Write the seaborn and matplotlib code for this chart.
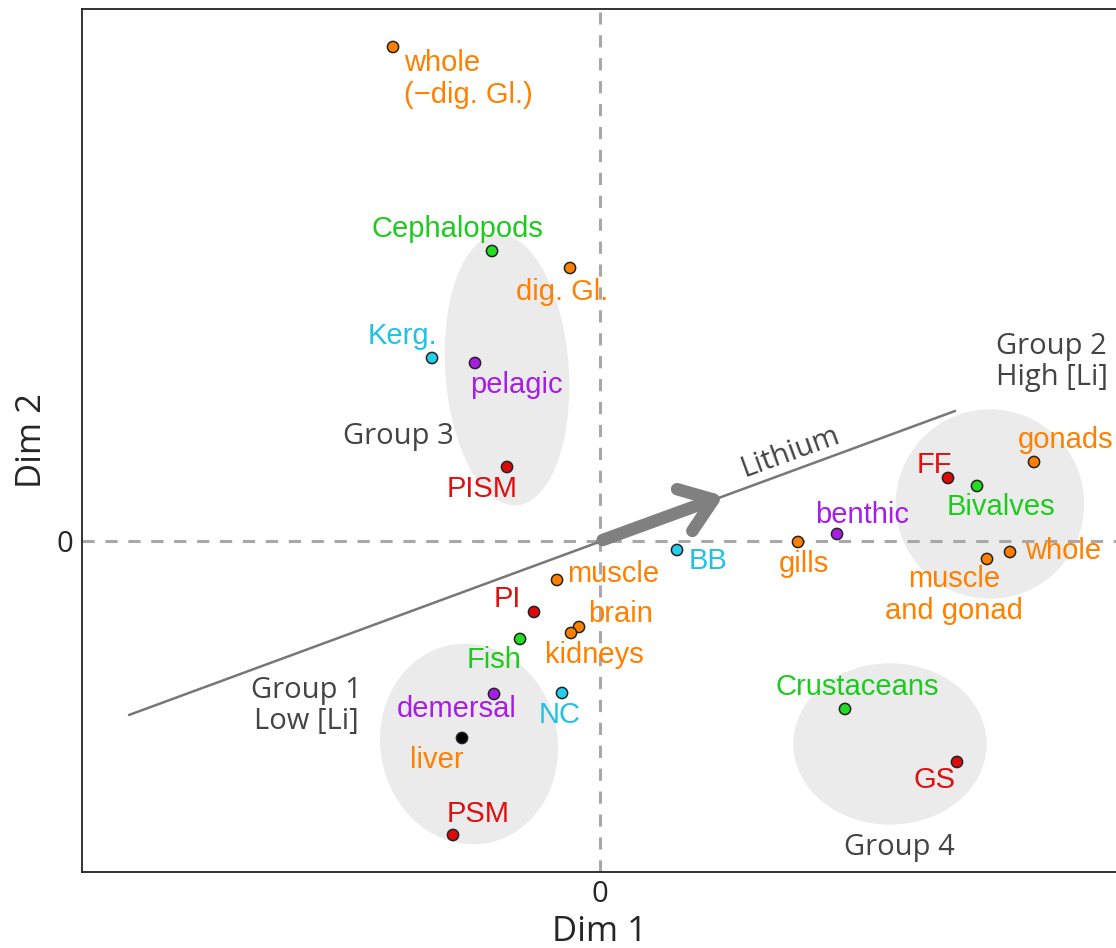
import matplotlib
matplotlib.use('Agg')
import matplotlib.pyplot as plt
import numpy as np
import pandas as pd
import seaborn as sns
from matplotlib.patches import Ellipse, FancyArrowPatch

# data: PCA scores
labels = ['whole\n(\u2212dig. Gl.)', 'Cephalopods', 'dig. Gl.', 'Kerg.', 'pelagic', 'PISM',
          'FF', 'Bivalves', 'gonads', 'benthic', 'gills', 'BB', 'whole', 'muscle\nand gonad',
          'muscle', 'PI', 'brain', 'kidneys', 'Fish', 'demersal', 'NC', 'liver', 'PSM',
          'Crustaceans', 'GS']
dim1 = [-2.07, -1.08, -0.30, -1.68, -1.25, -0.93,
        3.48, 3.77, 4.34, 2.37, 1.98, 0.77, 4.10, 3.87,
        -0.43, -0.66, -0.21, -0.29, -0.80, -1.06, -0.38, -1.38, -1.47,
        2.45, 3.57]
dim2 = [4.94, 2.90, 2.73, 1.83, 1.78, 0.74,
        0.63, 0.55, 0.79, 0.07, -0.01, -0.09, -0.11, -0.18,
        -0.39, -0.71, -0.86, -0.92, -0.98, -1.53, -1.52, -1.97, -2.94,
        -1.68, -2.21]
kind = ['tissue', 'taxon', 'tissue', 'region', 'habitat', 'site',
        'site', 'taxon', 'tissue', 'habitat', 'tissue', 'region', 'tissue', 'tissue',
        'tissue', 'site', 'tissue', 'tissue', 'taxon', 'habitat', 'region', 'liver', 'site',
        'taxon', 'site']

palette = {'tissue': '#ff8000', 'taxon': '#22dd22', 'site': '#dd0a0a',
           'habitat': '#a61ee6', 'region': '#22d0ec', 'liver': '#000000'}
text_col = {'tissue': '#ff8000', 'taxon': '#1ccc1c', 'site': '#dd1111',
            'habitat': '#a61ee6', 'region': '#1ec3e3', 'liver': '#ff8000'}

# label offsets in points (dx, dy, ha)
offsets = [(8, -23, 'left'), (-25, 16, 'center'), (-6, -17, 'center'), (-21, 16, 'center'),
           (30, -16, 'center'), (-18, -16, 'center'),
           (-10, 9, 'center'), (17, -15, 'center'), (23, 16, 'center'), (18, 14, 'center'),
           (4, -16, 'center'), (22, -8, 'center'), (11, 1, 'left'), (-24, -26, 'center'),
           (7, 4, 'left'), (-19, 9, 'center'), (30, 9, 'center'), (17, -16, 'center'),
           (-19, -15, 'center'), (-27, -11, 'center'), (-2, -16, 'center'), (-18, -16, 'center'),
           (18, 15, 'center'), (9, 16, 'center'), (-16, -13, 'center')]

df = pd.DataFrame({'Dim1': dim1, 'Dim2': dim2, 'kind': kind, 'label': labels})

sns.set_style('white')
plt.rcParams['font.family'] = ['Liberation Sans', 'DejaVu Sans']

fig = plt.figure(figsize=(11.16, 9.48), dpi=100)
ax = fig.add_axes([0.0735, 0.0802, 0.9265, 0.9103])
ax.set_xlim(-5.18, 5.16)
ax.set_ylim(-3.31, 5.32)

# group ellipses
grey = '#ebebeb'
ax.add_patch(Ellipse((-0.93, 1.71), 1.22, 2.70, angle=4, color=grey, zorder=0))
ax.add_patch(Ellipse((-1.31, -2.03), 1.76, 2.00, angle=10, color=grey, zorder=0))
ax.add_patch(Ellipse((3.90, 0.37), 1.87, 1.88, color=grey, zorder=0))
ax.add_patch(Ellipse((2.90, -2.03), 1.92, 1.60, color=grey, zorder=0))

ax.axhline(0, color='#a8a8a8', lw=2.2, dashes=(4, 3.5), zorder=1)
ax.axvline(0, color='#a8a8a8', lw=2.2, dashes=(4, 3.5), zorder=1)

# lithium axis
ax.plot([-4.71, 3.55], [-1.74, 1.30], color='#777777', lw=1.8, zorder=1)
ax.add_patch(FancyArrowPatch((0.0, 0.0), (1.26, 0.46),
                             arrowstyle='->,head_length=0.55,head_width=0.4',
                             mutation_scale=40, lw=9, color='#808080', zorder=2))
ax.text(1.90, 0.89, 'Lithium', rotation=20, ha='center', va='center', fontsize=21,
        color='#444444', family=['Open Sans', 'DejaVu Sans'])

sns.scatterplot(data=df, x='Dim1', y='Dim2', hue='kind', palette=palette, s=65,
                edgecolor='#222222', linewidth=1.1, legend=False, zorder=3, ax=ax)

for i in range(len(labels)):
    dx, dy, ha = offsets[i]
    ax.annotate(labels[i], (dim1[i], dim2[i]), xytext=(dx, dy), textcoords='offset points',
                ha=ha, va='center', fontsize=21, color=text_col[kind[i]],
                multialignment=ha, linespacing=1.15, zorder=4)

grp = dict(fontsize=21, color='#444444', family=['Open Sans', 'DejaVu Sans'], va='center',
           linespacing=1.1)
ax.text(-2.02, 1.04, 'Group 3', ha='center', **grp)
ax.text(3.96, 1.79, 'Group 2\nHigh [Li]', ha='left', multialignment='left', **grp)
ax.text(-2.94, -1.65, 'Group 1\nLow [Li]', ha='center', multialignment='center', **grp)
ax.text(2.99, -3.07, 'Group 4', ha='center', **grp)

ax.set_xticks([0])
ax.set_yticks([0])
ax.set_xticklabels(['0'], fontsize=21, family=['Open Sans', 'DejaVu Sans'])
ax.set_yticklabels(['0'], fontsize=21, family=['Open Sans', 'DejaVu Sans'])
ax.tick_params(axis='x', length=0, pad=6)
ax.tick_params(axis='y', direction='in', length=13, width=1.5, color='black', pad=6)
ax.set_xlabel('Dim 1', fontsize=25, family=['Open Sans', 'DejaVu Sans'], labelpad=4)
ax.set_ylabel('Dim 2', fontsize=25, family=['Open Sans', 'DejaVu Sans'], labelpad=6)
for s in ['left', 'bottom', 'top']:
    ax.spines[s].set_color('#222222')
    ax.spines[s].set_linewidth(1.3)
ax.spines['right'].set_visible(False)

fig.savefig('out.png', dpi=100)
